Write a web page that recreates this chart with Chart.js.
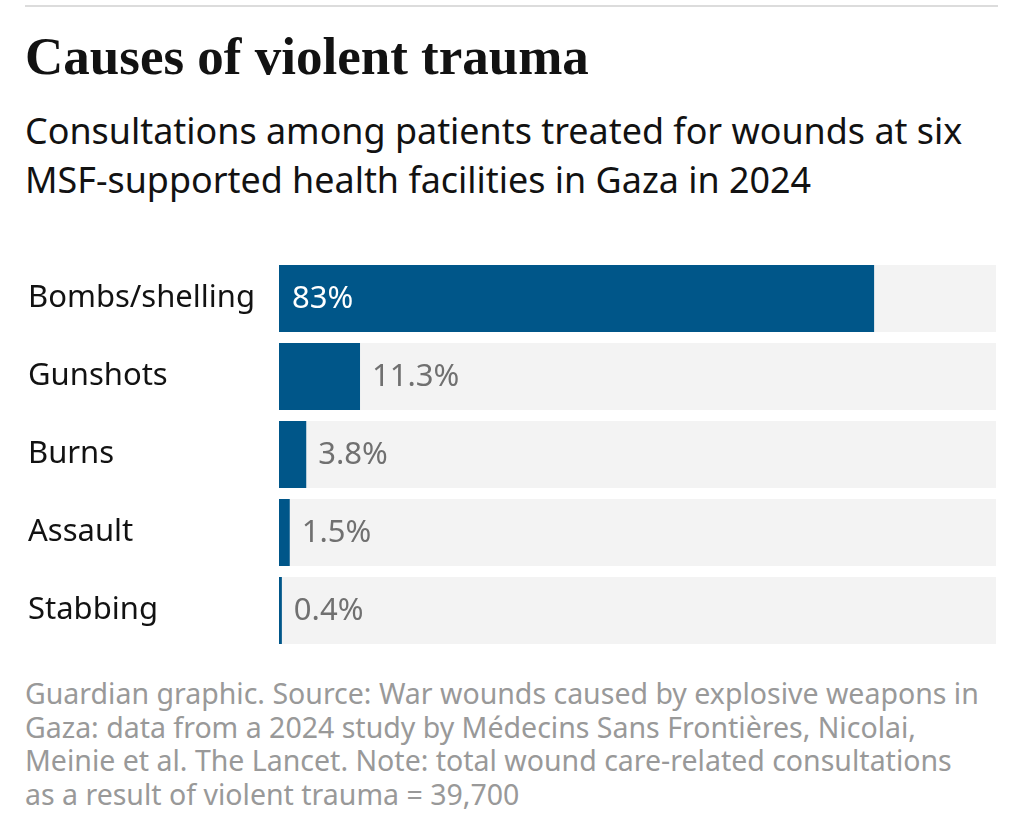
<!DOCTYPE html>
<html>
<head>
<meta charset="utf-8">
<script src="https://cdn.jsdelivr.net/npm/chart.js@4"></script>
<style>
  body { margin: 0; background: #fff; width: 1024px; height: 839px; position: relative; overflow: hidden; }
  .rule { position: absolute; left: 25px; top: 5px; width: 973px; height: 2px; background: #dcdcdc; }
  .title { position: absolute; left: 25px; top: 26px; font: bold 53px "Liberation Serif", serif; color: #121212; white-space: nowrap; }
  .subtitle { position: absolute; left: 25px; top: 106px; font: 35.9px "Noto Sans", sans-serif; line-height: 49px; color: #121212; white-space: nowrap; }
  .note { position: absolute; left: 25px; top: 677px; font: 28.5px "Noto Sans", sans-serif; line-height: 33.5px; color: #999; white-space: nowrap; }
  #wrap { position: absolute; left: 0; top: 238px; width: 1024px; height: 433px; }
</style>
</head>
<body>
<div class="rule"></div>
<div class="title">Causes of violent trauma</div>
<div class="subtitle">Consultations among patients treated for wounds at six<br>MSF-supported health facilities in Gaza in 2024</div>
<div id="wrap"><canvas id="traumaChart"></canvas></div>
<div class="note">Guardian graphic. Source: War wounds caused by explosive weapons in<br>Gaza: data from a 2024 study by Médecins Sans Frontières, Nicolai,<br>Meinie et al. The Lancet. Note: total wound care-related consultations<br>as a result of violent trauma = 39,700</div>
<script>
const causes = ['Bombs/shelling', 'Gunshots', 'Burns', 'Assault', 'Stabbing'];
const shares = [83, 11.3, 3.8, 1.5, 0.4];
const fullScale = [100, 100, 100, 100, 100];

const valueLabels = {
  id: 'valueLabels',
  afterDatasetsDraw(chart) {
    const ctx = chart.ctx;
    const meta = chart.getDatasetMeta(0);
    ctx.save();
    ctx.font = '31px "Noto Sans", sans-serif';
    ctx.textBaseline = 'middle';
    meta.data.forEach((bar, i) => {
      const text = shares[i] + '%';
      if (i === 0) {
        ctx.fillStyle = '#ffffff';
        ctx.fillText(text, bar.base + 13, bar.y + 1);
      } else {
        ctx.fillStyle = '#707070';
        ctx.fillText(text, bar.x + 12, bar.y + 1);
      }
    });
    ctx.restore();
  }
};

window.addEventListener('load', () => {
  const ctx = document.getElementById('traumaChart').getContext('2d');
  new Chart(ctx, {
    type: 'bar',
    data: {
      labels: causes,
      datasets: [{
        data: shares,
        backgroundColor: '#005689',
        categoryPercentage: 1,
        barPercentage: 0.859,
        grouped: false,
        order: 1
      }, {
        data: fullScale,
        backgroundColor: '#f3f3f3',
        categoryPercentage: 1,
        barPercentage: 0.859,
        grouped: false,
        order: 2
      }]
    },
    options: {
      indexAxis: 'y',
      responsive: true,
      maintainAspectRatio: false,
      animation: false,
      layout: { padding: { left: 28, right: 28, top: 0, bottom: 0 } },
      plugins: { legend: { display: false }, tooltip: { enabled: false } },
      scales: {
        x: { display: false, min: 0, max: 100 },
        y: {
          grid: { display: false },
          border: { display: false },
          afterFit(scale) { scale.width = 251; },
          ticks: {
            crossAlign: 'far',
            color: '#121212',
            font: { family: 'Noto Sans', size: 31 }
          }
        }
      }
    },
    plugins: [valueLabels]
  });
});
</script>
</body>
</html>
